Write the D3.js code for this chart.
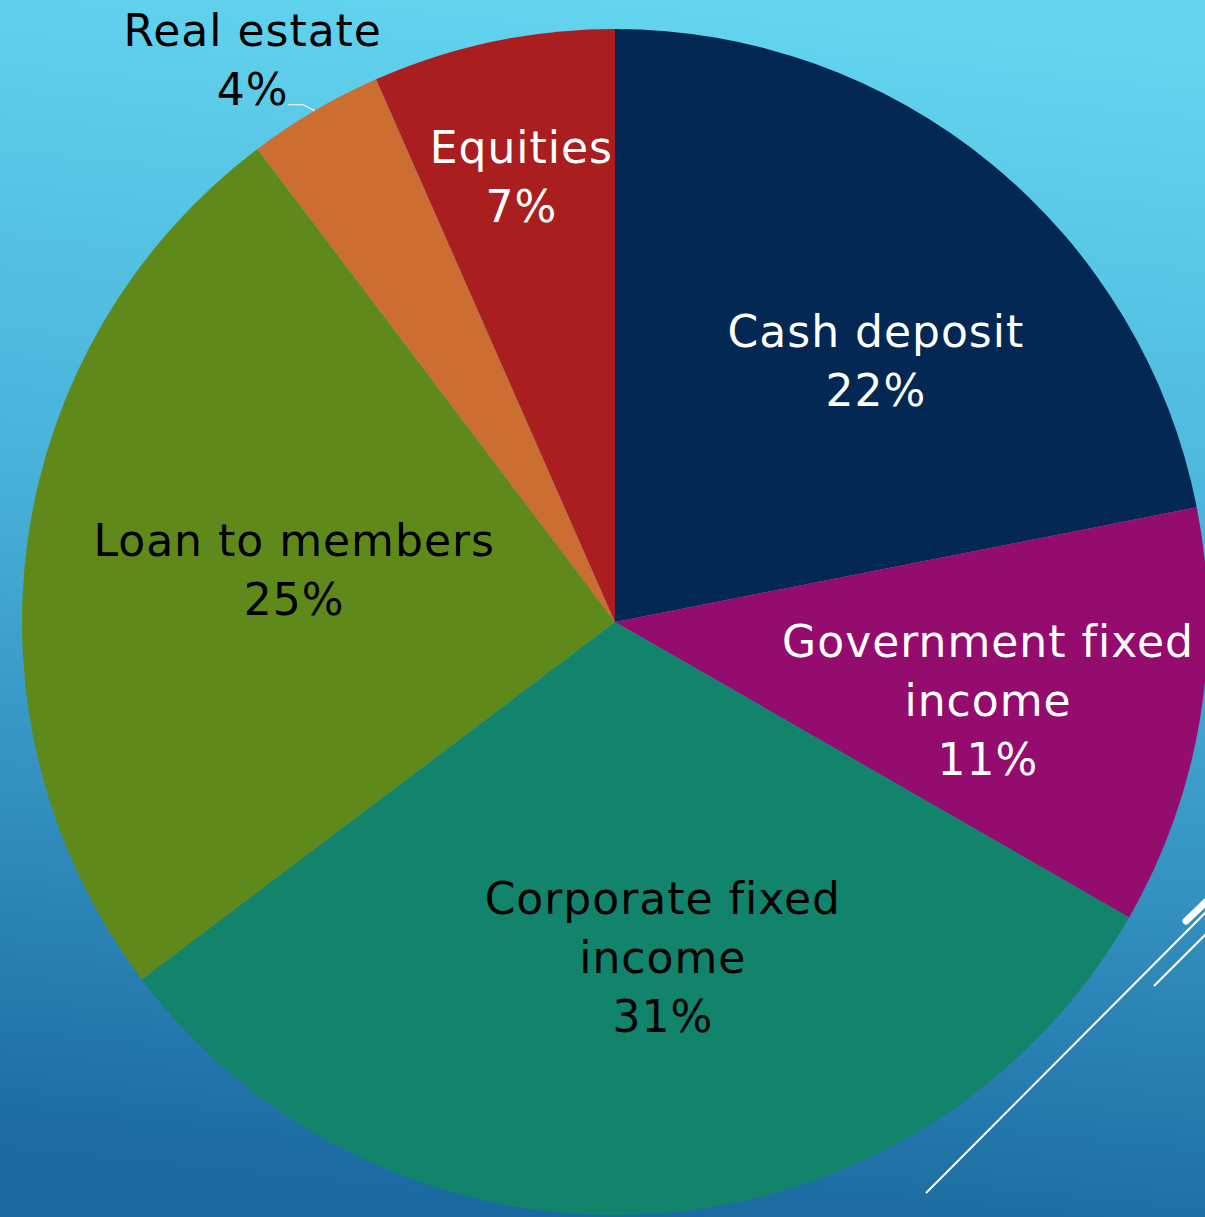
<!DOCTYPE html>
<html>
<head>
<meta charset="utf-8">
<title>Portfolio allocation</title>
<script src="https://d3js.org/d3.v7.min.js"></script>
<style>
  html, body { margin: 0; padding: 0; }
  body { width: 1205px; height: 1217px; overflow: hidden; }
  text { font-family: "Century Gothic", "URW Gothic", "DejaVu Sans", sans-serif; letter-spacing: 1px; }
</style>
</head>
<body>
<div id="chart"></div>
<script>
// ---- data ----
const categories = ["Cash deposit", "Government fixed income", "Corporate fixed income",
                    "Loan to members", "Real estate", "Equities"];
const shares = [21.9, 11.4, 31.4, 25.0, 3.7, 6.6];
const labelLines = [
  ["Cash deposit", "22%"],
  ["Government fixed", "income", "11%"],
  ["Corporate fixed", "income", "31%"],
  ["Loan to members", "25%"],
  ["Real estate", "4%"],
  ["Equities", "7%"]
];

// ---- layout ----
const W = 1205, H = 1217;
const cx = 615, cy = 622, R = 593;
const colors = ["#022853", "#940c6e", "#12846c", "#5f8a1b", "#cc6d31", "#ab1e20"];
const textColors = ["#ffffff", "#ffffff", "#000000", "#000000", "#000000", "#ffffff"];
// label placement (excel best-fit style): distance as fraction of radius, angle nudge in degrees
const labelR = [0.622, 0.643, 0.572, 0.548, 1.0, 0.767];
const labelNudge = [5.6, 2.6, -4.5, 1.3, 0, 0];
const lineH = 59, fontSize = 44;

const svg = d3.select("#chart").append("svg")
  .attr("width", W).attr("height", H);

const defs = svg.append("defs");
const grad = defs.append("linearGradient")
  .attr("id", "bg")
  .attr("x1", "0.55").attr("y1", "0")
  .attr("x2", "0.45").attr("y2", "1");
grad.append("stop").attr("offset", "0").attr("stop-color", "#63d5ef");
grad.append("stop").attr("offset", "0.45").attr("stop-color", "#47b0d8");
grad.append("stop").attr("offset", "1").attr("stop-color", "#1a68a0");

svg.append("rect").attr("width", W).attr("height", H).attr("fill", "url(#bg)");

// decorative lines bottom right
const deco = svg.append("g").attr("stroke", "#ffffff").attr("fill", "none");
deco.append("line").attr("x1", 926).attr("y1", 1193).attr("x2", 1210).attr("y2", 908)
  .attr("stroke-width", 2);
deco.append("line").attr("x1", 1154).attr("y1", 986).attr("x2", 1210).attr("y2", 930)
  .attr("stroke-width", 2);
deco.append("line").attr("x1", 1186).attr("y1", 921).attr("x2", 1210).attr("y2", 898)
  .attr("stroke-width", 7).attr("stroke-linecap", "round");

// ---- pie ----
const data = categories.map((c, i) => ({ name: c, value: shares[i], i: i }));
const pie = d3.pie().value(d => d.value).sort(null);
const arcs = pie(data);
const arc = d3.arc().innerRadius(0).outerRadius(R);

const g = svg.append("g").attr("transform", `translate(${cx},${cy})`);

g.selectAll("path.slice")
  .data(arcs)
  .enter().append("path")
  .attr("class", "slice")
  .attr("d", arc)
  .attr("fill", d => colors[d.data.i]);

// labels
function labelPos(d) {
  const a = (d.startAngle + d.endAngle) / 2 + labelNudge[d.data.i] * Math.PI / 180;
  const r = R * labelR[d.data.i];
  return [Math.sin(a) * r, -Math.cos(a) * r];
}

arcs.forEach(d => {
  const i = d.data.i;
  const lines = labelLines[i];
  let [x, y] = labelPos(d);
  if (i === 4) {
    // outside label with leader
    const a = (d.startAngle + d.endAngle) / 2;
    const ex = Math.sin(a) * R, ey = -Math.cos(a) * R;
    g.append("path")
      .attr("d", `M${ex},${ey} L${ex - 12},${ey - 6} L${ex - 27},${ey - 6}`)
      .attr("fill", "none").attr("stroke", "#d8f2fb").attr("stroke-width", 1.2);
    x = ex - 62; y = ey - 51;
  }
  const t = g.append("text")
    .attr("text-anchor", "middle")
    .attr("fill", textColors[i])
    .attr("font-size", fontSize);
  const y0 = y - (lines.length - 1) * lineH / 2;
  lines.forEach((s, k) => {
    t.append("tspan")
      .attr("x", x)
      .attr("y", y0 + k * lineH)
      .attr("dy", "0.35em")
      .text(s);
  });
});
</script>
</body>
</html>
